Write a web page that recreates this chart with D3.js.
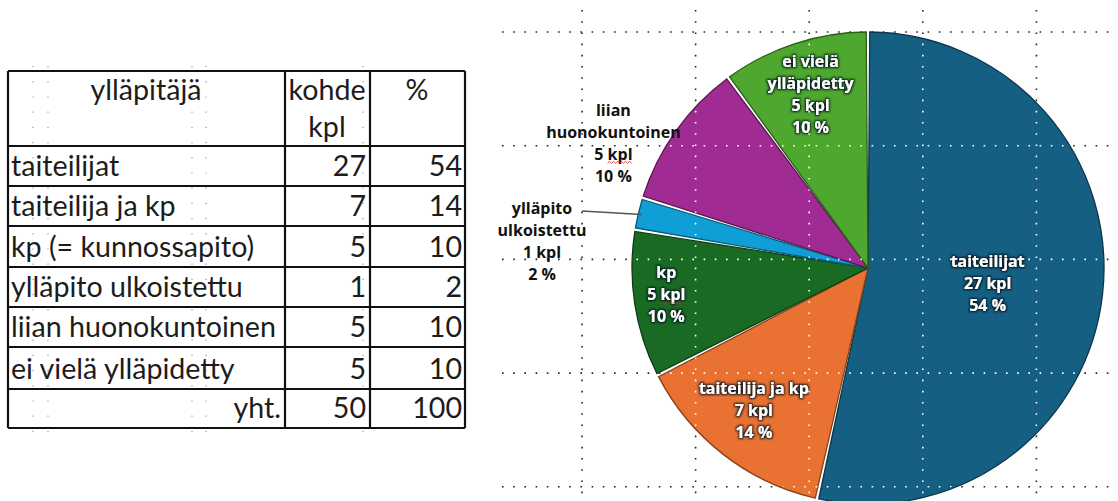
<!DOCTYPE html>
<html>
<head>
<meta charset="utf-8">
<script src="https://cdn.jsdelivr.net/npm/d3@7"></script>
<style>
  body { margin: 0; background: #fff; }
  .cell { font-family: Lato, "Open Sans", sans-serif; fill: #1c1c1c; }
  .lbl { font-family: "Open Sans", sans-serif; font-weight: 700; font-size: 16px; }
</style>
</head>
<body>
<svg id="chart" width="1118" height="501"></svg>
<script>
// table + pie data
var categories = ["taiteilijat", "taiteilija ja kp", "kp  (= kunnossapito)", "ylläpito ulkoistettu", "liian huonokuntoinen", "ei vielä ylläpidetty"];
var counts = [27, 7, 5, 1, 5, 5];
var percents = [54, 14, 10, 2, 10, 10];
var totalLabel = "yht.";
var totalCount = 50;
var totalPercent = 100;
var headers = ["ylläpitäjä", ["kohde", "kpl"], "%"];
var pieNames = [["taiteilijat"], ["taiteilija ja kp"], ["kp"], ["ylläpito", "ulkoistettu"], ["liian", "huonokuntoinen"], ["ei vielä", "ylläpidetty"]];
var colors = ["#156082", "#E97132", "#196B24", "#0F9ED5", "#A02B93", "#4EA72E"];
var spellMarked = [2, 4]; // labels whose "kpl" got the red squiggle

var svg = d3.select("#chart");
var defs = svg.append("defs");

// ---------- background dotted grid ----------
var cx = 868, cy = 268, R = 236;
var gridX = d3.range(5).map(function(i) { return 582 + i * 113.6; });
var gridY = d3.range(5).map(function(i) { return 32 + i * 113.7; });

function drawGrid(g, col) {
  g.selectAll("line.h").data(gridY).enter().append("line")
    .attr("x1", 502).attr("x2", 1118)
    .attr("y1", function(d) { return d; }).attr("y2", function(d) { return d; })
    .attr("stroke", col).attr("stroke-width", 1.6).attr("stroke-dasharray", "1.6 9.6");
  g.selectAll("line.v").data(gridX).enter().append("line")
    .attr("y1", 10).attr("y2", 501)
    .attr("x1", function(d) { return d; }).attr("x2", function(d) { return d; })
    .attr("stroke", col).attr("stroke-width", 1.6).attr("stroke-dasharray", "1.6 9.6");
}
drawGrid(svg.append("g"), "#222");

// ---------- table ----------
var colX = [8, 285, 370, 465];
var rowY = [71, 146, 186, 226, 267, 307, 347, 389, 428];
var tg = svg.append("g");

// faint excel gridline dots
var dotCols = [33, 48, 192, 206, 363];
tg.selectAll("line.dv").data(dotCols).enter().append("line")
  .attr("x1", function(d) { return d; }).attr("x2", function(d) { return d; })
  .attr("y1", 66).attr("y2", 440)
  .attr("stroke", "#9a9a9a").attr("stroke-width", 1.2).attr("stroke-dasharray", "1.2 14");

// size the table font so that the longest row fits like in the picture
var probe = tg.append("text").attr("class", "cell").style("font-size", "30px").text(categories[4]);
var fs = 30 * 265 / probe.node().getComputedTextLength();
probe.remove();

var rows = categories.map(function(c, i) { return [c, counts[i], percents[i]]; });
rows.push([totalLabel, totalCount, totalPercent]);

rows.forEach(function(r, i) {
  var base = rowY[i + 2] - 10;
  tg.append("text").attr("class", "cell").style("font-size", fs + "px")
    .attr("x", i === rows.length - 1 ? colX[1] - 4 : colX[0] + 3)
    .attr("text-anchor", i === rows.length - 1 ? "end" : "start")
    .attr("y", base).text(r[0]);
  tg.append("text").attr("class", "cell").style("font-size", fs + "px")
    .attr("x", colX[2] - 4).attr("text-anchor", "end").attr("y", base).text(r[1]);
  tg.append("text").attr("class", "cell").style("font-size", fs + "px")
    .attr("x", colX[3] - 3).attr("text-anchor", "end").attr("y", base).text(r[2]);
});

// header
tg.append("text").attr("class", "cell").style("font-size", fs + "px")
  .attr("x", 146).attr("y", 100).attr("text-anchor", "middle").text(headers[0]);
tg.append("text").attr("class", "cell").style("font-size", fs + "px")
  .attr("x", 327).attr("y", 100).attr("text-anchor", "middle").text(headers[1][0]);
tg.append("text").attr("class", "cell").style("font-size", fs + "px")
  .attr("x", 327).attr("y", 137).attr("text-anchor", "middle").text(headers[1][1]);
tg.append("text").attr("class", "cell").style("font-size", fs + "px")
  .attr("x", 417).attr("y", 100).attr("text-anchor", "middle").text(headers[2]);

// borders
tg.selectAll("line.rh").data(rowY).enter().append("line")
  .attr("x1", colX[0]).attr("x2", colX[3])
  .attr("y1", function(d) { return d; }).attr("y2", function(d) { return d; })
  .attr("stroke", "#111").attr("stroke-width", 2.2);
tg.selectAll("line.cv").data(colX).enter().append("line")
  .attr("y1", rowY[0]).attr("y2", rowY[rowY.length - 1])
  .attr("x1", function(d) { return d; }).attr("x2", function(d) { return d; })
  .attr("stroke", "#111").attr("stroke-width", 2.2);

// ---------- pie ----------
var pie = d3.pie().sort(null).value(function(d) { return d; }).padAngle(0.015);
var arcs = pie(counts);
var arc = d3.arc().innerRadius(0).outerRadius(R).padRadius(R);

var pg = svg.append("g").attr("transform", "translate(" + cx + "," + cy + ")");
pg.selectAll("path.slice").data(arcs).enter().append("path")
  .attr("class", "slice")
  .attr("d", arc)
  .attr("fill", function(d, i) { return colors[i]; })
  .attr("stroke", function(d, i) { return d3.color(colors[i]).darker(1.6); })
  .attr("stroke-width", 1.3);

// white grid dots over the slices
var clip = defs.append("clipPath").attr("id", "pieclip");
clip.selectAll("path").data(arcs).enter().append("path")
  .attr("transform", "translate(" + cx + "," + cy + ")")
  .attr("d", d3.arc().innerRadius(0).outerRadius(R - 1.5).padRadius(R));
drawGrid(svg.append("g").attr("clip-path", "url(#pieclip)"), "#fff");

// label glow
var f = defs.append("filter").attr("id", "glow").attr("x", "-20%").attr("y", "-40%").attr("width", "140%").attr("height", "180%");
f.append("feMorphology").attr("in", "SourceAlpha").attr("operator", "dilate").attr("radius", 0.6).attr("result", "fat");
f.append("feGaussianBlur").attr("in", "fat").attr("stdDeviation", 1.1).attr("result", "blur");
f.append("feFlood").attr("flood-color", "#071520").attr("flood-opacity", 0.95);
f.append("feComposite").attr("in2", "blur").attr("operator", "in").attr("result", "halo");
var fm = f.append("feMerge");
fm.append("feMergeNode").attr("in", "halo");
fm.append("feMergeNode").attr("in", "SourceGraphic");

// label placement: radius as share of R, plus a nudge for the outside labels
var labelPos = [
  { r: 0.51, dx: 0, dy: 2, inside: true },
  { r: 0.79, dx: 0, dy: -5, inside: true },
  { r: 0.865, dx: 0, dy: -5, inside: true },
  { r: 1.0, dx: -326, dy: -27, inside: false, leader: true },
  { r: 1.2, dx: -24, dy: 39, inside: false },
  { r: 0.78, dx: 0, dy: 1, inside: true }
];
var lineH = 22;

arcs.forEach(function(a, i) {
  var p = labelPos[i];
  var mid = (a.startAngle + a.endAngle) / 2;
  var lx, ly;
  if (p.leader) {
    lx = p.dx; ly = p.dy;
  } else {
    lx = Math.sin(mid) * R * p.r + p.dx;
    ly = -Math.cos(mid) * R * p.r + p.dy;
  }
  var lines = pieNames[i].concat([counts[i] + " kpl", percents[i] + " %"]);
  var t = pg.append("text").attr("class", "lbl")
    .attr("text-anchor", "middle")
    .attr("fill", p.inside ? "#fff" : "#111")
    .attr("filter", p.inside ? "url(#glow)" : null);
  lines.forEach(function(s, k) {
    t.append("tspan").attr("x", lx)
      .attr("y", ly + (k - (lines.length - 1) / 2) * lineH)
      .attr("dominant-baseline", "central")
      .text(s);
  });
  if (spellMarked.indexOf(i) >= 0) {
    var start = pieNames[i].join("").length + String(counts[i]).length + 1;
    var e0 = t.node().getExtentOfChar(start), e1 = t.node().getExtentOfChar(start + 2);
    var x0 = e0.x, x1 = e1.x + e1.width, yy = e0.y + e0.height - 2;
    var pts = [];
    for (var x = x0, up = 0; x <= x1; x += 2, up = 1 - up) pts.push([x, yy + (up ? -1.2 : 0.6)]);
    pg.append("path").attr("d", d3.line()(pts))
      .attr("fill", "none").attr("stroke", "#d42020").attr("stroke-width", 0.8);
  }
  if (p.leader) {
    var ex = Math.sin(mid) * R * 0.985, ey = -Math.cos(mid) * R * 0.985;
    pg.append("line")
      .attr("x1", lx + 40).attr("y1", ly - 30)
      .attr("x2", ex).attr("y2", ey)
      .attr("stroke", "#555").attr("stroke-width", 1.5);
  }
});
</script>
</body>
</html>
